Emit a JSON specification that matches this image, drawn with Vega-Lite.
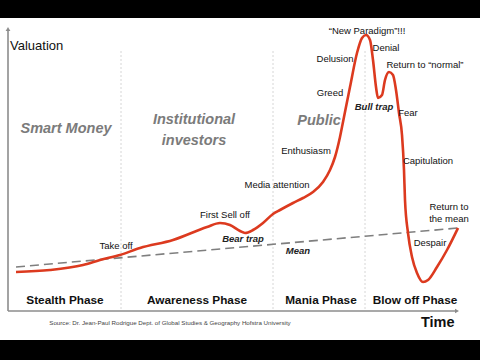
{
  "$schema": "https://vega.github.io/schema/vega-lite/v6.json",
  "width": 480,
  "height": 360,
  "padding": 0,
  "autosize": {"type": "fit", "contains": "padding"},
  "background": "black",
  "config": {"view": {"stroke": null}},
  "encoding": {
    "x": {"field": "t", "type": "quantitative", "scale": {"domain": [0, 480], "nice": false, "zero": false}, "axis": null},
    "y": {"field": "v", "type": "quantitative", "scale": {"domain": [0, 360], "nice": false, "zero": false}, "axis": null}
  },
  "layer": [
    {
      "data": {"values": [{"t": 0, "t2": 480, "v": 20, "v2": 342}]},
      "mark": {"type": "rect", "color": "white"},
      "encoding": {"x2": {"field": "t2"}, "y2": {"field": "v2"}}
    },
    {
      "data": {"values": [{"t": 121, "v": 51, "v2": 310}, {"t": 273, "v": 51, "v2": 310}, {"t": 365, "v": 51, "v2": 310}]},
      "mark": {"type": "rule", "color": "#d6d6d6", "strokeWidth": 1, "strokeDash": [2, 2]},
      "encoding": {"y2": {"field": "v2"}}
    },
    {
      "data": {"values": [{"t": 8, "t2": 8, "v": 49, "v2": 330}, {"t": 8, "t2": 455, "v": 49, "v2": 49}]},
      "mark": {"type": "rule", "color": "#8c8c8c", "strokeWidth": 1.6},
      "encoding": {"x2": {"field": "t2"}, "y2": {"field": "v2"}}
    },
    {
      "data": {"values": [{"t": 8, "v": 331, "dir": "up"}]},
      "mark": {"type": "point", "shape": "triangle-up", "filled": true, "color": "#8c8c8c", "size": 22, "opacity": 1}
    },
    {
      "data": {"values": [{"t": 457, "v": 49, "dir": "right"}]},
      "mark": {"type": "point", "shape": "triangle-right", "filled": true, "color": "#8c8c8c", "size": 22, "opacity": 1}
    },
    {
      "data": {"values": [{"t": 16, "v": 93}, {"t": 458, "v": 132}]},
      "mark": {"type": "line", "color": "#7f7f7f", "strokeWidth": 1.6, "strokeDash": [9, 5]}
    },
    {
      "data": {"values": [
        {"t": 16, "v": 88}, {"t": 50, "v": 90}, {"t": 83, "v": 95}, {"t": 100, "v": 100}, {"t": 120, "v": 105},
        {"t": 140, "v": 112}, {"t": 173, "v": 120}, {"t": 207, "v": 133}, {"t": 220, "v": 137}, {"t": 230, "v": 135},
        {"t": 240, "v": 129}, {"t": 245, "v": 127}, {"t": 253, "v": 130}, {"t": 263, "v": 137}, {"t": 273, "v": 146},
        {"t": 280, "v": 150}, {"t": 293, "v": 157}, {"t": 303, "v": 162}, {"t": 313, "v": 168}, {"t": 323, "v": 178},
        {"t": 330, "v": 190}, {"t": 335, "v": 203}, {"t": 340, "v": 223}, {"t": 343, "v": 238}, {"t": 350, "v": 273},
        {"t": 357, "v": 307}, {"t": 362, "v": 322}, {"t": 366, "v": 325}, {"t": 370, "v": 320}, {"t": 373, "v": 300},
        {"t": 376, "v": 273}, {"t": 378, "v": 262}, {"t": 382, "v": 265}, {"t": 385, "v": 280}, {"t": 389, "v": 288},
        {"t": 393, "v": 285}, {"t": 396, "v": 270}, {"t": 399, "v": 247}, {"t": 402, "v": 225}, {"t": 404, "v": 190},
        {"t": 405, "v": 160}, {"t": 408, "v": 127}, {"t": 412, "v": 103}, {"t": 417, "v": 87}, {"t": 423, "v": 78},
        {"t": 428, "v": 80}, {"t": 437, "v": 93}, {"t": 447, "v": 110}, {"t": 458, "v": 132}
      ]},
      "mark": {"type": "line", "color": "#dc3a1f", "strokeWidth": 2.6, "interpolate": "monotone"}
    },
    {
      "data": {"values": [
        {"t": 116, "v": 114, "label": "Take off"},
        {"t": 225, "v": 145, "label": "First Sell off"},
        {"t": 277, "v": 175, "label": "Media attention"},
        {"t": 306, "v": 209, "label": "Enthusiasm"},
        {"t": 330, "v": 267, "label": "Greed"},
        {"t": 335, "v": 301, "label": "Delusion"},
        {"t": 367, "v": 329, "label": "“New Paradigm”!!!"},
        {"t": 386, "v": 312, "label": "Denial"},
        {"t": 425, "v": 295, "label": "Return to “normal”"},
        {"t": 408, "v": 247, "label": "Fear"},
        {"t": 428, "v": 199, "label": "Capitulation"},
        {"t": 430, "v": 117, "label": "Despair"},
        {"t": 449, "v": 153, "label": ["Return to", "the mean"]}
      ]},
      "mark": {"type": "text", "font": "Liberation Sans", "fontSize": 9.5, "color": "#111", "baseline": "middle", "align": "center", "lineHeight": 12},
      "encoding": {"text": {"field": "label"}}
    },
    {
      "data": {"values": [
        {"t": 243, "v": 121, "label": "Bear trap"},
        {"t": 298, "v": 109, "label": "Mean"},
        {"t": 374, "v": 253, "label": "Bull trap"}
      ]},
      "mark": {"type": "text", "font": "Liberation Sans", "fontSize": 9.5, "fontStyle": "italic", "fontWeight": "bold", "color": "#222", "baseline": "middle", "align": "center"},
      "encoding": {"text": {"field": "label"}}
    },
    {
      "data": {"values": [
        {"t": 65, "v": 60, "label": "Stealth Phase"},
        {"t": 197, "v": 60, "label": "Awareness Phase"},
        {"t": 321, "v": 60, "label": "Mania Phase"},
        {"t": 415, "v": 60, "label": "Blow off Phase"}
      ]},
      "mark": {"type": "text", "font": "Liberation Sans", "fontSize": 11.8, "fontWeight": "bold", "color": "#111", "baseline": "middle", "align": "center"},
      "encoding": {"text": {"field": "label"}}
    },
    {
      "data": {"values": [
        {"t": 66, "v": 231, "label": "Smart Money"},
        {"t": 194, "v": 240, "label": ["Institutional", "investors"]},
        {"t": 319, "v": 239, "label": "Public"}
      ]},
      "mark": {"type": "text", "font": "Liberation Sans", "fontSize": 14.5, "fontStyle": "italic", "fontWeight": "bold", "color": "#7b7b7b", "baseline": "middle", "align": "center", "lineHeight": 21},
      "encoding": {"text": {"field": "label"}}
    },
    {
      "data": {"values": [{"t": 10, "v": 314, "label": "Valuation"}]},
      "mark": {"type": "text", "font": "Liberation Sans", "fontSize": 13, "color": "#111", "baseline": "middle", "align": "left"},
      "encoding": {"text": {"field": "label"}}
    },
    {
      "data": {"values": [{"t": 421, "v": 37, "label": "Time"}]},
      "mark": {"type": "text", "font": "Liberation Sans", "fontSize": 14.5, "fontWeight": "bold", "color": "#111", "baseline": "middle", "align": "left"},
      "encoding": {"text": {"field": "label"}}
    },
    {
      "data": {"values": [{"t": 170, "v": 37, "label": "Source: Dr. Jean-Paul Rodrigue Dept. of Global Studies & Geography Hofstra University"}]},
      "mark": {"type": "text", "font": "Liberation Sans", "fontSize": 6.2, "color": "#444", "baseline": "middle", "align": "center"},
      "encoding": {"text": {"field": "label"}}
    }
  ]
}
